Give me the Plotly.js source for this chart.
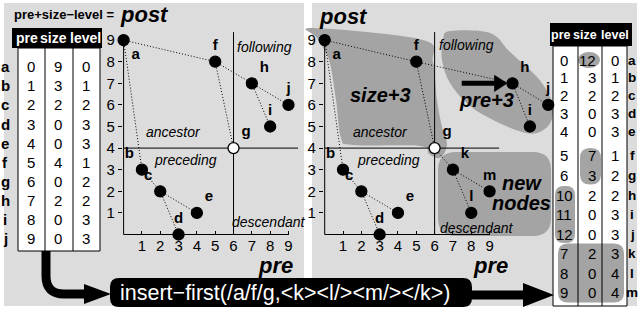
<!DOCTYPE html>
<html><head><meta charset="utf-8">
<script src="https://cdn.plot.ly/plotly-3.0.1.min.js"></script>
<style>html,body{margin:0;padding:0;background:#fff}#chart{width:639px;height:310px}</style>
</head><body><div id="chart"></div>
<script>
// ---------------- data ----------------
const nodesBefore = ['a','b','c','d','e','f','g','h','i','j'];
const preBefore   = [0,1,2,3,4,5,6,7,8,9];
const sizeBefore  = [9,3,2,0,0,4,0,2,0,0];
const levelBefore = [0,1,2,3,3,1,2,2,3,3];
const postBefore  = [9,3,2,0,1,8,4,7,5,6];
const parentBefore = [null,'a','b','c','c','a','f','f','h','h'];

const nodesAfter = ['a','b','c','d','e','f','g','h','i','j','k','l','m'];
const preAfter   = [0,1,2,3,4,5,6,10,11,12,7,8,9];
const sizeAfter  = [12,3,2,0,0,7,3,2,0,0,2,0,0];
const levelAfter = [0,1,2,3,3,1,2,2,3,3,3,4,4];
// positions of the nodes as drawn in the right-hand plane
const plotPreAfter  = [0,1,2,3,4,5,6,10.25,11.2,12.2,7,8,9];
const plotPostAfter = [9,3,2,0,1,8,4,7,5,6,3,1,2];
const parentAfter = [null,'a','b','c','c','a','f','f','h','h','g','k','k'];

const axisTicks = [1,2,3,4,5,6,7,8,9];
const tableHeader = ['pre','size','level'];
const insertCall = 'insert\u2212first(/a/f/g,&lt;k&gt;&lt;l/&gt;&lt;m/&gt;&lt;/k&gt;)';

// ---------------- layout helpers ----------------
const W = 639, H = 310;
const PX = x => x / W, PY = y => 1 - y / H;
const FONT = '"Liberation Sans", Arial, Helvetica, sans-serif';
const GRAY = '#dcdcdc', BLOB = '#a4a4a4';
const UX = 18.32, UY = 21.6, Y0 = 234.5, L0 = 123.6, R0 = 324.7;
const PAD = 0.04;

const fx = p => PX(p[0]).toFixed(5) + ',' + PY(p[1]).toFixed(5);
function smoothPath(pts) {
  const n = pts.length; let d = 'M' + fx(pts[0]);
  for (let i = 0; i < n; i++) {
    const p0 = pts[(i - 1 + n) % n], p1 = pts[i], p2 = pts[(i + 1) % n], p3 = pts[(i + 2) % n];
    const c1 = [p1[0] + (p2[0] - p0[0]) / 6, p1[1] + (p2[1] - p0[1]) / 6];
    const c2 = [p2[0] - (p3[0] - p1[0]) / 6, p2[1] - (p3[1] - p1[1]) / 6];
    d += ' C' + fx(c1) + ' ' + fx(c2) + ' ' + fx(p2);
  }
  return d + ' Z';
}
function roundRect(x0, y0, x1, y1, r) {
  return 'M' + fx([x0 + r, y0]) + ' L' + fx([x1 - r, y0]) + ' Q' + fx([x1, y0]) + ' ' + fx([x1, y0 + r]) +
    ' L' + fx([x1, y1 - r]) + ' Q' + fx([x1, y1]) + ' ' + fx([x1 - r, y1]) +
    ' L' + fx([x0 + r, y1]) + ' Q' + fx([x0, y1]) + ' ' + fx([x0, y1 - r]) +
    ' L' + fx([x0, y0 + r]) + ' Q' + fx([x0, y0]) + ' ' + fx([x0 + r, y0]) + ' Z';
}
function pxPath(cmds) {
  return cmds.map(c => c[0] + c.slice(1).map(fx).join(' ')).join(' ');
}
const rectPx = (x0, y0, x1, y1, fill, line, layer) => ({type:'rect', xref:'paper', yref:'paper',
  x0:PX(x0), x1:PX(x1), y0:PY(y1), y1:PY(y0), fillcolor:fill, line:line || {width:0}, layer:layer || 'below'});
const linePx = (x0, y0, x1, y1, w) => ({type:'line', xref:'paper', yref:'paper',
  x0:PX(x0), x1:PX(x1), y0:PY(y0), y1:PY(y1), line:{color:'#000', width:w || 1}, layer:'below'});

function edges(names, xs, ys, parents) {
  const ex = [], ey = [];
  parents.forEach((p, i) => { if (p) { const j = names.indexOf(p); ex.push(xs[j], xs[i], null); ey.push(ys[j], ys[i], null); } });
  return {ex, ey};
}

// ---------------- traces ----------------
const eB = edges(nodesBefore, preBefore, postBefore, parentBefore);
const eA = edges(nodesAfter, plotPreAfter, plotPostAfter, parentAfter);
const posB = ['bottom right','top left','top left','top center','top right','top center','top right','top right','top center','top center'];
const posA = posB.concat(['top right','top center','top center']);
const mk = names => ({size:11, color:names.map(n => n === 'g' ? '#fff' : '#000'), line:{color:'#000', width:1.3}});
const tf = {family:FONT, size:15, color:'#000', weight:'bold'};
const dotLine = {color:'#000', width:1, dash:'1px,2px'};

const traces = [
  {type:'scatter', mode:'lines', x:eB.ex, y:eB.ey, xaxis:'x', yaxis:'y', line:dotLine, hoverinfo:'skip'},
  {type:'scatter', mode:'markers+text', x:preBefore, y:postBefore, text:nodesBefore, textposition:posB, textfont:tf,
   marker:mk(nodesBefore), cliponaxis:false, xaxis:'x', yaxis:'y'},
  {type:'scatter', mode:'lines', x:eA.ex, y:eA.ey, xaxis:'x2', yaxis:'y2', line:dotLine, hoverinfo:'skip'},
  {type:'scatter', mode:'markers+text', x:plotPreAfter, y:plotPostAfter, text:nodesAfter, textposition:posA, textfont:tf,
   marker:mk(nodesAfter), cliponaxis:false, xaxis:'x2', yaxis:'y2'}
];

// ---------------- axes ----------------
const ydom = [PY(Y0 + PAD * UY), PY(Y0 - 9.6 * UY)];
const xAxis = (x0, xmax, anchor) => ({domain:[PX(x0 - PAD * UX), PX(x0 + xmax * UX)], range:[-PAD, xmax], anchor,
  tickvals:axisTicks, ticks:'inside', ticklen:4, tickcolor:'#000', showgrid:false, zeroline:false, showline:false,
  tickfont:{family:FONT, size:15, color:'#000'}, fixedrange:true});
const yAxis = anchor => ({domain:ydom, range:[-PAD, 9.6], anchor, tickvals:axisTicks, ticks:'outside', ticklen:4,
  tickcolor:'#000', showgrid:false, zeroline:false, showline:false, tickfont:{family:FONT, size:15, color:'#000'}, fixedrange:true});

// ---------------- shapes ----------------
const shapes = [];
shapes.push(rectPx(4, 3, 304, 306, GRAY));
shapes.push(rectPx(312, 3, 637, 306, GRAY));
const blobFill = d => ({type:'path', xref:'paper', yref:'paper', path:d, fillcolor:BLOB, line:{width:0}, layer:'below'});
shapes.push(blobFill(smoothPath([[313,28],[423,40],[433,62],[437,100],[442,127],[447,145],[440,158],[429,154],[420,146],[353,145],[341,138],[336,100],[329,60],[317,38]])));
shapes.push(blobFill(smoothPath([[450,31],[490,33],[510,52],[537,77],[550,97],[553,112],[549,125],[537,133],[522,132],[497,122],[470,106],[450,83],[442,60],[443,40]])));
shapes.push(blobFill(roundRect(438, 152, 551, 236, 18)));

[['x','y'],['x2','y2']].forEach(([xr, yr]) => {
  const L = (x0, y0, x1, y1) => ({type:'line', xref:xr, yref:yr, x0, y0, x1, y1, line:{color:'#000', width:1}, layer:'below'});
  shapes.push(L(0, 0, 9, 0), L(0, 0, 0, 9), L(6, 0, 6, 9.37), L(0, 4, 9.52, 4));
});
shapes.push({type:'line', xref:'x2', yref:'y2', x0:7.48, y0:7, x1:9.35, y1:7, line:{color:'#000', width:5}});
shapes.push({type:'path', xref:'x2', yref:'y2', path:'M9.25,7.4 L9.98,7 L9.25,6.6 Z', fillcolor:'#000', line:{width:0}});

// left table
const LT = {hx0:12, hx1:102, hy0:28, hy1:48, bx0:18, bx1:100, by1:251, cols:[45,73]};
shapes.push(rectPx(LT.hx0, LT.hy0, LT.hx1, LT.hy1, '#000'));
shapes.push(rectPx(LT.bx0, LT.hy1, LT.bx1, LT.by1, '#fff', {color:'#000', width:1}));
LT.cols.forEach(c => shapes.push(linePx(c, LT.hy1, c, LT.by1)));

// right table
const RT = {hx0:550, hx1:632, hy0:23, hy1:46, bx0:553, bx1:627, by1:306, cols:[578,602]};
const rowR = i => i < 5 ? 60 + 17.75 * i : 156 + 19.5 * (i - 5);
shapes.push(rectPx(RT.hx0, RT.hy0, RT.hx1, RT.hy1, '#000'));
shapes.push(rectPx(RT.bx0, RT.hy1, RT.bx1, RT.by1, '#fff'));
shapes.push({type:'circle', xref:'paper', yref:'paper', x0:PX(578), x1:PX(600), y0:PY(rowR(0) + 8), y1:PY(rowR(0) - 8), fillcolor:BLOB, line:{width:0}, layer:'below'});
shapes.push(blobFill(roundRect(580, rowR(5) - 8, 601, rowR(6) + 9, 10)));
shapes.push(blobFill(roundRect(555, rowR(7) - 9, 575, rowR(9) + 9, 9)));
shapes.push(blobFill(roundRect(558, rowR(10) - 10, 624, rowR(12) + 10, 10)));
shapes.push(rectPx(RT.bx0, RT.hy1, RT.bx1, RT.by1, 'rgba(0,0,0,0)', {color:'#000', width:1}));
RT.cols.forEach(c => shapes.push(linePx(c, RT.hy1, c, RT.by1)));

// bottom arrows and call box
const thick = (d, w) => ({type:'path', xref:'paper', yref:'paper', path:d, fillcolor:'rgba(0,0,0,0)', line:{color:'#000', width:w}, layer:'above'});
const solid = d => ({type:'path', xref:'paper', yref:'paper', path:d, fillcolor:'#000', line:{width:0}, layer:'above'});
shapes.push(thick(pxPath([['M',[46,251]],['L',[46,276]],['Q',[46,294],[64,294]],['L',[90,294]]]), 9));
shapes.push(solid(pxPath([['M',[84,284]],['L',[111,294]],['L',[84,304]]]) + ' Z'));
shapes.push(solid(roundRect(110, 278, 472, 307, 9)));
shapes.push(thick(pxPath([['M',[470,295]],['L',[528,295]]]), 9));
shapes.push(solid(pxPath([['M',[523,283]],['L',[554,295]],['L',[523,307]]]) + ' Z'));

// ---------------- annotations ----------------
const ann = [];
const A = (x, y, text, o) => ann.push(Object.assign({xref:'paper', yref:'paper', x:PX(x), y:PY(y), text, showarrow:false,
  xanchor:'center', yanchor:'middle', font:{family:FONT, size:15, color:'#000'}}, o || {}));
const font = (size, extra) => Object.assign({family:FONT, size, color:'#000'}, extra || {});

A(12, 15, 'pre+size\u2212level =', {xanchor:'left', font:font(13, {weight:'bold'})});
A(118, 15, 'post', {xanchor:'left', font:font(22, {weight:'bold', style:'italic'})});
A(317, 16, 'post', {xanchor:'left', font:font(22, {weight:'bold', style:'italic'})});
A(275, 265, 'pre', {font:font(22, {weight:'bold', style:'italic'})});
A(490, 265, 'pre', {font:font(22, {weight:'bold', style:'italic'})});
const it = font(14, {style:'italic'});
[[264,47,'following'],[173,132,'ancestor'],[185,160,'preceding'],[269,222,'descendant'],
 [466,45,'following'],[381,132,'ancestor'],[388,160,'preceding'],[477,228,'descendant']].forEach(r => A(r[0], r[1], r[2], {font:it}));
const bi = font(20, {weight:'bold', style:'italic'});
A(380, 95, 'size+3', {font:bi});
A(486, 100, 'pre+3', {font:bi});
A(522, 183, 'new', {font:bi});
A(521, 203, 'nodes', {font:bi});

[26.5, 53.5, 85].forEach((x, k) => A(x, 38, tableHeader[k], {font:font(14, {weight:'bold', color:'#fff'})}));
nodesBefore.forEach((n, i) => {
  const y = 67 + 19 * i;
  A(5, y, n, {font:font(15, {weight:'bold'})});
  A(31, y, String(preBefore[i]));
  A(58, y, String(sizeBefore[i]));
  A(86, y, String(levelBefore[i]));
});
[561, 585, 615].forEach((x, k) => A(x, 34.5, tableHeader[k], {font:font(12.5, {weight:'bold', color:'#fff'})}));
nodesAfter.forEach((n, i) => {
  const y = rowR(i);
  A(632, y, n, {font:font(13.5, {weight:'bold'})});
  A(564, y, String(preAfter[i]));
  A(598, y, String(sizeAfter[i]), {xanchor:'right'});
  A(614.5, y, String(levelAfter[i]));
});
A(118, 293, insertCall, {xanchor:'left', font:font(21.5, {color:'#fff'})});

const layout = {
  width:W, height:H, margin:{l:0, r:0, t:0, b:0, pad:0}, paper_bgcolor:'#fff', plot_bgcolor:'rgba(0,0,0,0)',
  showlegend:false, font:{family:FONT, color:'#000'},
  xaxis:xAxis(L0, 9.6, 'y'), yaxis:yAxis('x'),
  xaxis2:xAxis(R0, 12.6, 'y2'), yaxis2:yAxis('x2'),
  shapes, annotations:ann
};
Plotly.newPlot('chart', traces, layout, {displayModeBar:false, staticPlot:true});
</script></body></html>
